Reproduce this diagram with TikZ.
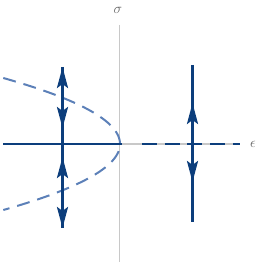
\documentclass[tikz,border=0pt]{standalone}
\usetikzlibrary{arrows.meta}
\definecolor{dblue}{RGB}{12,62,124}
\definecolor{lblue}{RGB}{92,128,184}
\definecolor{axgray}{RGB}{200,200,200}
\definecolor{labgray}{RGB}{100,100,100}
\begin{document}
\begin{tikzpicture}[x=1pt,y=-1pt,
  axis/.style={draw=axgray,line width=1.1pt},
  flow/.style={draw=dblue,line width=2.8pt},
  tip/.style={draw=dblue,line width=2.8pt,-{Stealth[length=21pt,width=11pt,inset=4pt]}},
  nullc/.style={draw=lblue,line width=2pt,dash pattern=on 13pt off 8pt},
  lab/.style={text=labgray,font=\fontsize{15}{17}\selectfont,inner sep=0pt}]
\useasboundingbox (0,0) rectangle (259,264);
% axes
\coordinate (vtop) at (119.5,25);
\coordinate (vbot) at (119.5,262);
\coordinate (hl) at (3,144);
\coordinate (hr) at (240,144);
\coordinate (o) at (122,144);
\coordinate (d0) at (142,144);
\draw[axis] (vtop) -- (vbot);
\draw[axis] (hl) -- (hr);
\node[lab] (sig) at (118,10) {$\sigma$};
\node[lab] (eps) at (253,144) {$\epsilon$};
% parabola
\draw[nullc] plot[domain=-66:66,samples=60,smooth] ({120-0.0268*\x*\x},{144+\x});
% equilibria branches
\draw[flow] (hl) -- (o);
\draw[flow,dash pattern=on 15pt off 7.7pt] (d0) -- (hr);
% left vertical
\coordinate (l1) at (62.5,67);
\coordinate (l2) at (62.5,228);
\draw[flow] (l1) -- (l2);
\draw[tip] (62.5,95) -- (l1);
\draw[tip] (62.5,100) -- (62.5,128);
\draw[tip] (62.5,185) -- (62.5,157);
\draw[tip] (62.5,195) -- (l2);
% right vertical
\coordinate (r1) at (192.5,65);
\coordinate (r2) at (192.5,222);
\draw[flow] (r1) -- (r2);
\draw[tip] (192.5,130) -- (192.5,103);
\draw[tip] (192.5,155) -- (192.5,182);
\end{tikzpicture}
\end{document}
